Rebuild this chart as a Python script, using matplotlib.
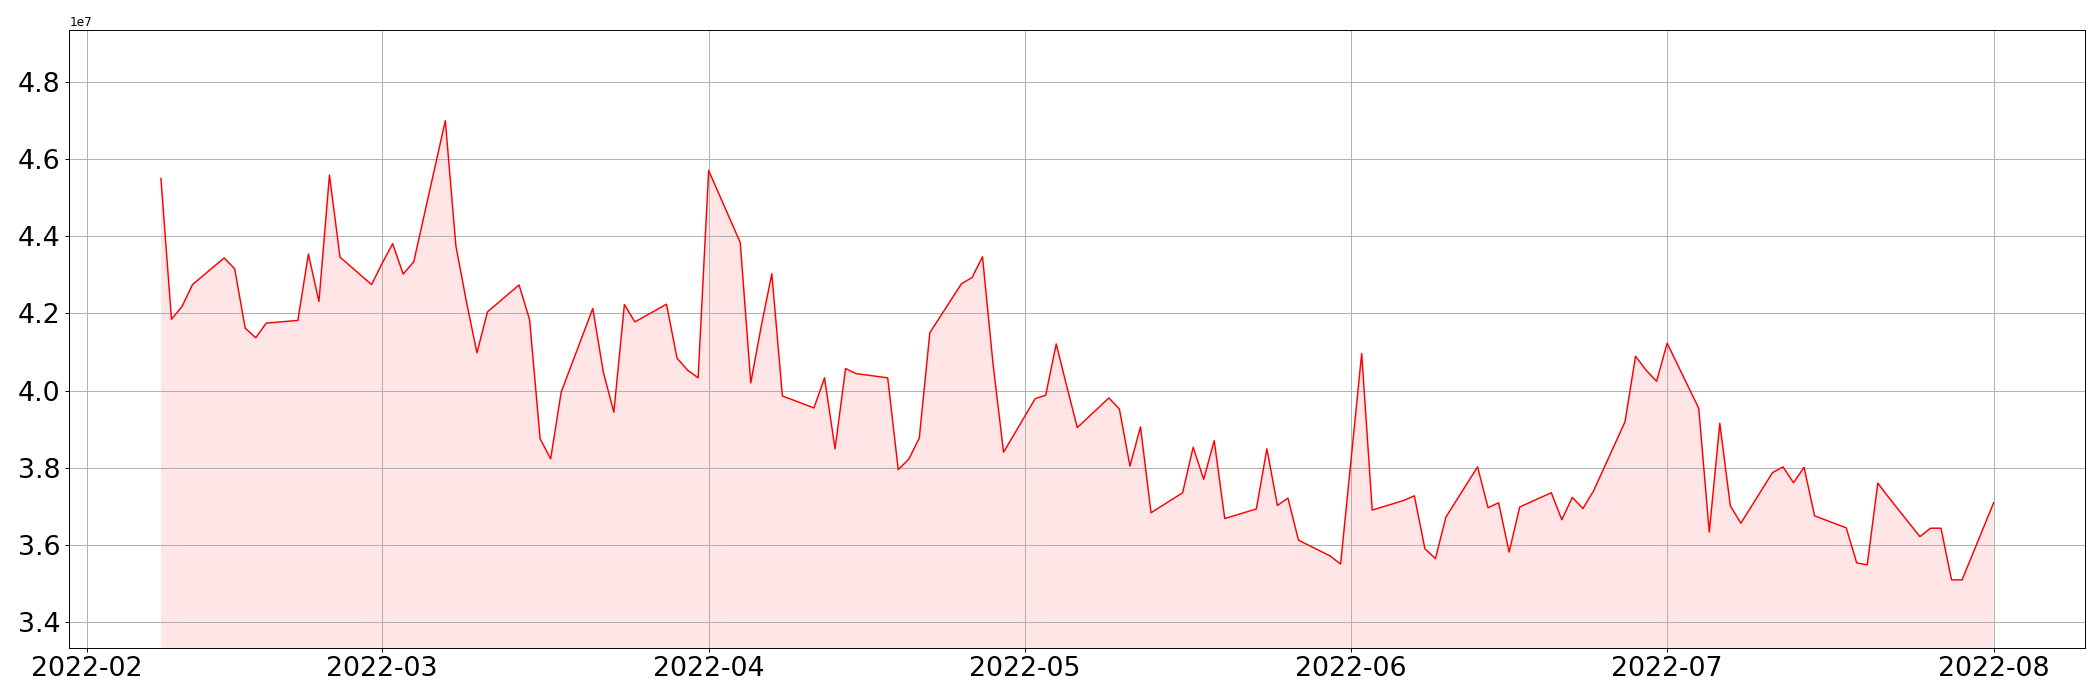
import matplotlib
matplotlib.use("Agg")
import matplotlib.pyplot as plt
import pandas as pd
import numpy as np

start_date = "2022-02-08"
end_date = "2022-08-01"

feb = [4.550, 4.185, 4.218, 4.275, 4.344, 4.316, 4.162, 4.137, 4.175, 4.182,
       4.354, 4.231, 4.559, 4.346, 4.275]
mar = [4.330, 4.381, 4.302, 4.334, 4.700, 4.376, 4.231, 4.098, 4.204, 4.274,
       4.184, 3.875, 3.823, 3.996, 4.213, 4.048, 3.944, 4.223, 4.178, 4.224,
       4.084, 4.053, 4.033]
apr = [4.571, 4.384, 4.020, 4.168, 4.303, 3.986, 3.955, 4.033, 3.849, 4.057,
       4.044, 4.033, 3.795, 3.822, 3.877, 4.150, 4.277, 4.293, 4.347, 4.069,
       3.840]
may = [3.979, 3.988, 4.121, 4.011, 3.904, 3.981, 3.952, 3.804, 3.906, 3.683,
       3.735, 3.853, 3.770, 3.870, 3.668, 3.693, 3.849, 3.702, 3.721, 3.612,
       3.571, 3.550]
jun = [3.823, 4.096, 3.690, 3.715, 3.727, 3.590, 3.564, 3.672, 3.802, 3.696,
       3.709, 3.581, 3.698, 3.735, 3.665, 3.723, 3.694, 3.739, 3.919, 4.089,
       4.053, 4.024]
jul = [4.123, 3.954, 3.633, 3.915, 3.701, 3.656, 3.787, 3.802, 3.761, 3.801,
       3.675, 3.644, 3.553, 3.548, 3.760, 3.724, 3.621, 3.643, 3.643, 3.509,
       3.509]
aug = [3.709]

dates = pd.bdate_range(start_date, end_date)
values = np.array(feb + mar + apr + may + jun + jul + aug) * 1e7

fig = plt.figure(figsize=(24, 8), dpi=87.5)
ax = fig.add_axes([0.033, 0.075, 0.960, 0.882])
ax.plot(dates, values, color="red", linewidth=1.2)
ax.fill_between(dates, values, color="red", alpha=0.1, linewidth=0)
ax.set_ylim(values.min() * 0.95, values.max() * 1.05)
ax.grid(True)
ax.tick_params(axis="both", labelsize=22)
fig.savefig("out.png", dpi=87.5)
